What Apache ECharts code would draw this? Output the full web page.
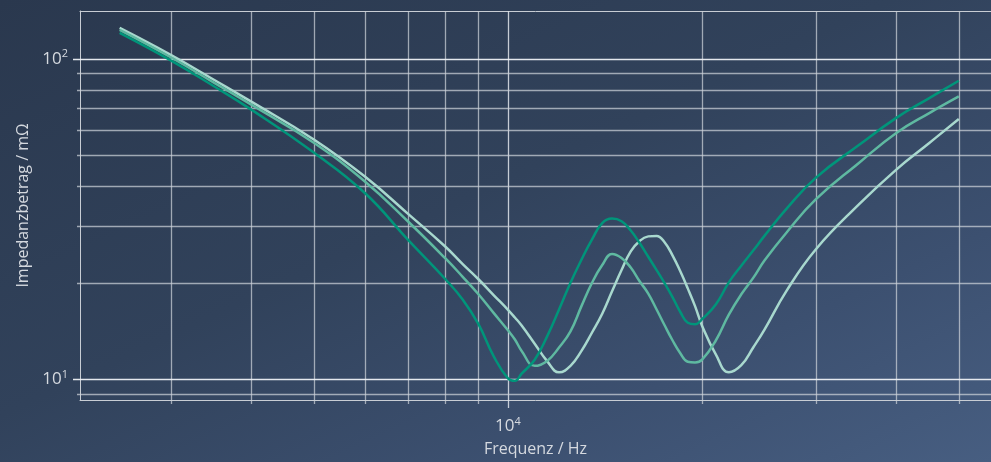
<!DOCTYPE html>
<html><head><meta charset="utf-8">
<script src="https://cdn.jsdelivr.net/npm/echarts@6/dist/echarts.min.js"></script>
<style>
html,body{margin:0;padding:0;width:991px;height:462px;overflow:hidden;}
body{background:linear-gradient(to bottom right,#2a384e 0%,#31425b 45%,#3c5070 75%,#475e81 100%);}
#c{width:991px;height:462px;}
</style></head><body><div id="c"></div>
<script>
// Frequencies (Hz)
const freq = [2500,3000,3500,4000,5000,6000,7000,8000,8500,9000,9500,10000,10250,10500,11000,11500,12000,12500,13000,13500,14000,14500,15000,15500,16000,16500,17000,17500,18000,18500,19000,19500,20000,21000,22000,23000,24000,25000,27000,30000,35000,40000,45000,50000];
// Impedance magnitudes (mOhm)
const impA = [120.5,98.9,82.1,69.4,50.95,38.1,27.2,20.5,17.75,14.84,11.8,10.05,9.88,10.4,11.5,13.6,16.5,20.0,23.6,27.3,30.7,31.7,31.1,29.1,26.6,24.1,21.9,19.9,18.0,16.2,15.0,14.84,15.4,17.1,20.05,22.6,25.2,28.05,33.95,42.5,53.8,65.4,75.4,85.4];
const impB = [123.1,101.1,84.3,71.9,54.7,41.4,31.05,23.8,20.9,18.4,16.1,14.2,13.3,12.25,11.0,11.4,12.55,14.1,16.9,20.0,22.7,24.6,23.9,22.3,20.2,18.5,16.5,14.7,13.2,12.05,11.33,11.27,11.5,13.2,15.9,18.4,20.7,23.5,28.6,36.4,47.3,58.7,67.7,76.3];
const impC = [124.9,102.9,86.0,73.5,56.0,42.9,32.8,25.9,22.9,20.5,18.3,16.46,15.57,14.7,12.9,11.38,10.5,11.0,12.25,13.98,16.0,18.8,21.9,25.05,27.0,27.9,28.0,26.7,24.3,21.7,19.2,16.9,14.66,11.95,10.5,11.05,12.55,14.3,18.8,25.4,35.1,45.1,54.6,64.9];
// Axis ranges
const X_MIN = 2170, X_MAX = 56090;
const Y_MIN = 8.6, Y_MAX = 141;
// Grid line values
const xMinorGrid = [3000,4000,5000,6000,7000,8000,9000,20000,30000,40000,50000];
const xMajorGrid = [10000];
const yMinorGrid = [9,20,30,40,50,60,70,80,90];
const yMajorGrid = [10,100];

const TXT = '#d5d9df';
const MINOR = 'rgba(205,210,218,0.72)';
const MAJOR = 'rgba(238,241,245,0.95)';
const BORDER = '#c8cdd4';
const FONT = '"Open Sans", "Noto Sans", sans-serif';

function supFmt(v){
  const l = Math.log10(v), r = Math.round(l);
  if (Math.abs(l - r) > 1e-6) return '';
  return '10{s|' + r + '}';
}
const rich = { s: { fontSize: 11, verticalAlign: 'top', lineHeight: 11, color: TXT, fontFamily: FONT } };

const vData = xMinorGrid.map(v => [v, Y_MIN, 0]).concat(xMajorGrid.map(v => [v, Y_MIN, 1]));
const hData = yMinorGrid.map(v => [X_MIN, v, 0]).concat(yMajorGrid.map(v => [X_MIN, v, 1]));

const chart = echarts.init(document.getElementById('c'), null, {renderer:'canvas'});
chart.setOption({
  animation: false,
  backgroundColor: 'transparent',
  grid: { left: 80, top: 11, right: 0, bottom: 61, show: false },
  xAxis: [{
    type: 'log', logBase: 10, min: X_MIN, max: X_MAX, position: 'bottom',
    axisLine: { show: true, lineStyle: { color: BORDER, width: 1 } }, axisTick: { show: false }, splitLine: { show: false },
    axisLabel: { formatter: supFmt, rich: rich, color: TXT, fontSize: 17, lineHeight: 20, fontFamily: FONT, margin: 16, showMinLabel: false, showMaxLabel: false },
    name: 'Frequenz / Hz', nameLocation: 'middle', nameGap: 37,
    nameTextStyle: { color: TXT, fontSize: 16, fontFamily: FONT }
  }, {
    type: 'log', logBase: 10, min: X_MIN, max: X_MAX, position: 'top',
    axisLine: { show: true, lineStyle: { color: BORDER, width: 1 } }, axisTick: { show: false }, splitLine: { show: false },
    axisLabel: { show: false }
  }],
  yAxis: {
    type: 'log', logBase: 10, min: Y_MIN, max: Y_MAX,
    axisLine: { show: true, lineStyle: { color: BORDER, width: 1 } }, axisTick: { show: false }, splitLine: { show: false },
    axisLabel: { formatter: supFmt, rich: rich, color: TXT, fontSize: 17, lineHeight: 20, fontFamily: FONT, margin: 12, showMinLabel: false, showMaxLabel: false },
    name: 'Impedanzbetrag / mΩ', nameLocation: 'middle', nameGap: 46,
    nameTextStyle: { color: TXT, fontSize: 16, fontFamily: FONT }
  },
  series: [
    {
      type: 'custom', clip: false, z: 1, silent: true,
      encode: { x: 0, y: 1 },
      data: vData,
      renderItem: function(params, api){
        const cs = params.coordSys;
        const p = api.coord([api.value(0), api.value(1)]);
        const x = Math.round(p[0]) + 0.5;
        const major = api.value(2) === 1;
        const col = major ? 'rgba(225,229,235,0.85)' : MINOR;
        return { type: 'line', shape: { x1: x, y1: cs.y, x2: x, y2: cs.y + cs.height + (major ? 8 : 4) }, style: { stroke: col, lineWidth: 1.3 } };
      }
    },
    {
      type: 'custom', clip: false, z: 1, silent: true,
      encode: { x: 0, y: 1 },
      data: hData,
      renderItem: function(params, api){
        const cs = params.coordSys;
        const p = api.coord([api.value(0), api.value(1)]);
        const y = Math.round(p[1]) + 0.5;
        const major = api.value(2) === 1;
        const col = major ? MAJOR : MINOR;
        return { type: 'line', shape: { x1: cs.x - (major ? 7 : 3), y1: y, x2: cs.x + cs.width, y2: y }, style: { stroke: col, lineWidth: major ? 1.4 : 1.3 } };
      }
    },
    { type: 'line', name: 'C', z: 5, smooth: 0.45, symbol: 'none', data: freq.map((f,i) => [f, impC[i]]), lineStyle: { color: '#a8d8ce', width: 2.5 } },
    { type: 'line', name: 'B', z: 5, smooth: 0.45, symbol: 'none', data: freq.map((f,i) => [f, impB[i]]), lineStyle: { color: '#5fb9a1', width: 2.5 } },
    { type: 'line', name: 'A', z: 5, smooth: 0.45, symbol: 'none', data: freq.map((f,i) => [f, impA[i]]), lineStyle: { color: '#00957a', width: 2.5 } }
  ]
});
</script></body></html>
